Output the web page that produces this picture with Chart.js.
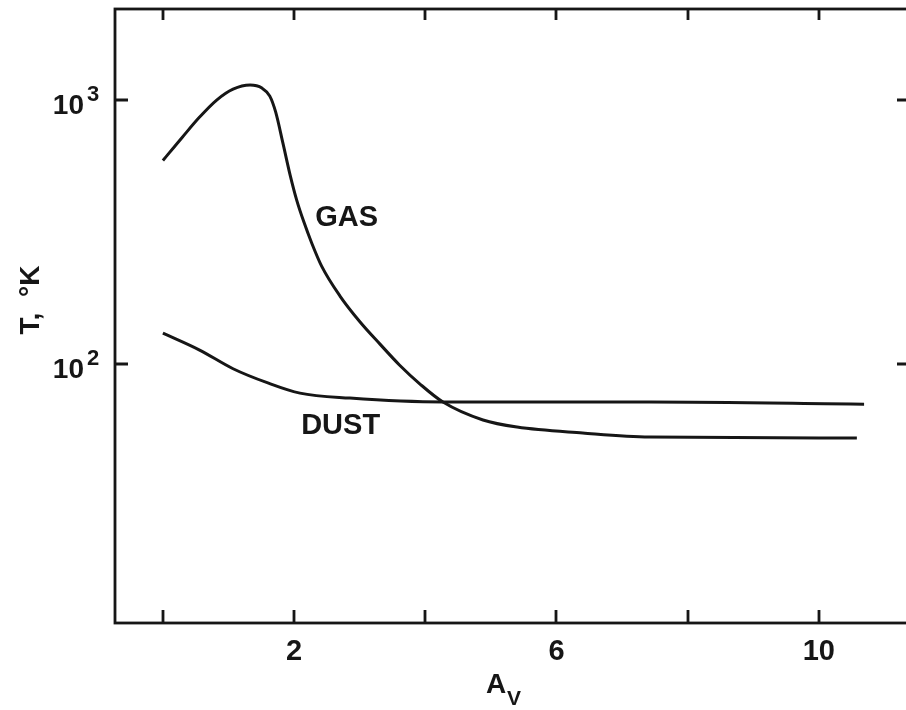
<!DOCTYPE html>
<html>
<head>
<meta charset="utf-8">
<title>Gas and dust temperature vs A_V</title>
<script src="https://cdn.jsdelivr.net/npm/chart.js@4/dist/chart.umd.min.js"></script>
<style>
  html, body { margin: 0; padding: 0; background: #fff; overflow: hidden; }
  #wrap { width: 912px; height: 710px; }
</style>
</head>
<body>
<div id="wrap"><canvas id="tempChart" width="912" height="710"></canvas></div>
<script>
// Gas temperature along the cloud
const gasAv = [0, 0.30, 0.56, 0.82, 1.07, 1.33, 1.51, 1.63, 1.72, 1.83, 1.94, 2.04, 2.15, 2.27, 2.42, 2.70, 3.00, 3.31, 3.61, 3.92, 4.27, 4.88, 5.40, 6.40, 7.42, 10.58];
const gasT  = [590, 725, 862, 1000, 1100, 1140, 1110, 1035, 900, 687, 520, 418, 345, 287, 235, 181, 145, 119, 99, 84, 71.8, 61.4, 57.7, 54.8, 52.9, 52.5];

// Dust temperature
const dustAv = [0, 0.56, 1.07, 1.59, 2.09, 2.85, 4.27, 7.42, 10.69];
const dustT  = [131, 113, 96, 85, 77.6, 74.3, 71.8, 71.8, 70.5];

// Axis ticks
const xTicks = [0, 2, 4, 6, 8, 10];
const xTickLabels = ['', '2', '', '6', '', '10'];
const yTicks = [100, 1000];
const yTickExponents = ['2', '3'];

// Curve labels (text, A_V, T)
const curveLabels = [
    ['GAS', 2.80, 357],
    ['DUST', 2.71, 58.2]
];

const INK = '#161616';
const FONT = '"Liberation Sans", Arial, Helvetica, sans-serif';

function toPoints(xs, ys) {
    return xs.map((x, i) => ({ x: x, y: ys[i] }));
}

// Frame, inward ticks, tick labels, axis titles and curve labels
const axesPlugin = {
    id: 'axesPlugin',
    afterDraw(chart) {
        const ctx = chart.ctx;
        const a = chart.chartArea;
        const xs = chart.scales.x;
        const ys = chart.scales.y;

        ctx.save();
        ctx.strokeStyle = INK;
        ctx.fillStyle = INK;
        ctx.lineWidth = 2.8;
        ctx.strokeRect(a.left, a.top, a.right - a.left, a.bottom - a.top);

        ctx.lineWidth = 2.8;
        ctx.beginPath();
        xTicks.forEach(v => {
            const px = Math.round(xs.getPixelForValue(v));
            ctx.moveTo(px, a.bottom);
            ctx.lineTo(px, a.bottom - 13);
            ctx.moveTo(px, a.top);
            ctx.lineTo(px, a.top + 11);
        });
        yTicks.forEach(v => {
            const py = Math.round(ys.getPixelForValue(v));
            ctx.moveTo(a.left, py);
            ctx.lineTo(a.left + 13, py);
            ctx.moveTo(a.right, py);
            ctx.lineTo(a.right - 13, py);
        });
        ctx.stroke();

        // x tick labels
        ctx.font = 'bold 29px ' + FONT;
        ctx.textAlign = 'center';
        ctx.textBaseline = 'alphabetic';
        xTicks.forEach((v, i) => {
            if (!xTickLabels[i]) return;
            ctx.fillText(xTickLabels[i], xs.getPixelForValue(v), a.bottom + 37);
        });

        // y tick labels as powers of ten
        yTicks.forEach((v, i) => {
            const py = ys.getPixelForValue(v);
            ctx.textAlign = 'right';
            ctx.font = 'bold 28px ' + FONT;
            ctx.fillText('10', a.left - 31, py + 14);
            ctx.textAlign = 'left';
            ctx.font = 'bold 22px ' + FONT;
            ctx.fillText(yTickExponents[i], a.left - 28, py + 1);
        });

        // y title
        ctx.save();
        ctx.translate(31, 300);
        ctx.rotate(-Math.PI / 2);
        ctx.textAlign = 'center';
        ctx.textBaseline = 'middle';
        ctx.font = 'bold 28px ' + FONT;
        ctx.fillText('T,  \u00B0K', 0, 0);
        ctx.restore();

        // x title A_V
        ctx.textAlign = 'left';
        ctx.font = 'bold 28px ' + FONT;
        ctx.fillText('A', 486, a.bottom + 70);
        ctx.font = 'bold 21px ' + FONT;
        ctx.fillText('V', 507, a.bottom + 82);

        // curve labels
        ctx.textAlign = 'center';
        ctx.textBaseline = 'middle';
        ctx.font = 'bold 29px ' + FONT;
        curveLabels.forEach(l => {
            ctx.fillText(l[0], xs.getPixelForValue(l[1]), ys.getPixelForValue(l[2]));
        });
        ctx.restore();
    }
};

new Chart(document.getElementById('tempChart'), {
    type: 'line',
    data: {
        datasets: [
            {
                label: 'GAS',
                data: toPoints(gasAv, gasT),
                borderColor: INK,
                borderWidth: 3,
                pointRadius: 0,
                cubicInterpolationMode: 'monotone',
                fill: false
            },
            {
                label: 'DUST',
                data: toPoints(dustAv, dustT),
                borderColor: INK,
                borderWidth: 3,
                pointRadius: 0,
                cubicInterpolationMode: 'monotone',
                fill: false
            }
        ]
    },
    options: {
        responsive: false,
        animation: false,
        layout: {
            padding: { left: 115, top: 9, right: 2, bottom: 87 }
        },
        plugins: {
            legend: { display: false },
            tooltip: { enabled: false }
        },
        scales: {
            x: { type: 'linear', min: -0.73, max: 11.39, display: false },
            y: { type: 'logarithmic', min: 10.45, max: 2213, display: false }
        }
    },
    plugins: [axesPlugin]
});
</script>
</body>
</html>
